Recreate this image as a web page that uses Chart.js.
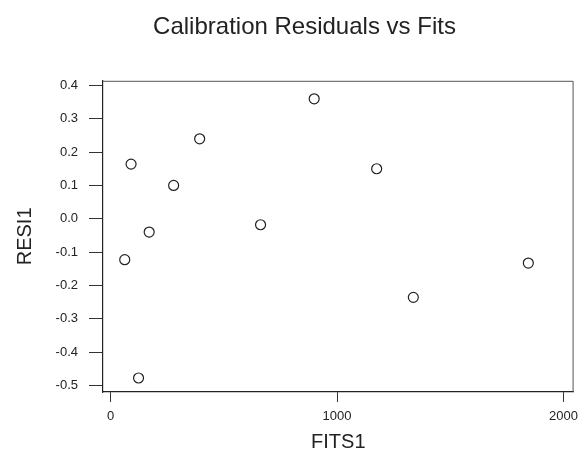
<!DOCTYPE html>
<html>
<head>
<meta charset="utf-8">
<title>Calibration Residuals vs Fits</title>
<script src="https://cdn.jsdelivr.net/npm/chart.js@4/dist/chart.umd.min.js"></script>
<style>
  body { margin: 0; background: #fff; }
  #wrap { width: 585px; height: 458px; }
</style>
</head>
<body>
<div id="wrap"><canvas id="residChart" width="585" height="458"></canvas></div>
<script>
// fitted values and their residuals
const fits = [90, 393, 899, 278, 170, 662, 62, 123, 1175, 1845, 1337];
const resids = [0.164, 0.240, 0.360, 0.100, -0.040, -0.018, -0.123, -0.478, 0.150, -0.133, -0.236];
const xTicks = [0, 1000, 2000];
const yTicks = [-0.5, -0.4, -0.3, -0.2, -0.1, 0.0, 0.1, 0.2, 0.3, 0.4];

const points = fits.map((f, i) => ({ x: f, y: resids[i] }));
const fontFamily = "'Liberation Sans', Arial, Helvetica, sans-serif";

// closes the frame on the top and right sides
const frameBox = {
    id: 'frameBox',
    afterDraw(chart) {
        const a = chart.chartArea;
        const ctx = chart.ctx;
        ctx.save();
        ctx.strokeStyle = '#555';
        ctx.lineWidth = 1;
        ctx.beginPath();
        ctx.moveTo(a.left, a.top + 0.5);
        ctx.lineTo(a.right - 0.5, a.top + 0.5);
        ctx.lineTo(a.right - 0.5, a.bottom);
        ctx.stroke();
        ctx.restore();
    }
};

const config = {
    type: 'scatter',
    data: {
        datasets: [{
            label: 'RESI1',
            data: points,
            pointStyle: 'circle',
            pointRadius: 5,
            pointBorderWidth: 1.2,
            borderColor: '#222',
            backgroundColor: 'rgba(255,255,255,0)',
        }],
    },
    options: {
        responsive: false,
        animation: false,
        layout: { padding: { left: 24, right: 0, top: 0, bottom: 0 } },
        plugins: {
            legend: { display: false },
            tooltip: { enabled: false },
            title: {
                display: true,
                text: 'Calibration Residuals vs Fits',
                color: '#222',
                font: { family: fontFamily, size: 24, weight: 'normal' },
                padding: { top: 13, bottom: 39 },
                align: 'center',
            },
        },
        scales: {
            x: {
                type: 'linear',
                min: -34,
                max: 2045,
                afterBuildTicks: (scale) => { scale.ticks = xTicks.map(v => ({ value: v })); },
                afterFit: (scale) => { scale.height = 66; },
                grid: { drawOnChartArea: false, drawTicks: true, tickLength: 10, color: '#333' },
                border: { display: true, color: '#222', width: 1.2 },
                ticks: {
                    color: '#222',
                    padding: 7,
                    maxRotation: 0,
                    font: { family: fontFamily, size: 13 },
                    callback: (v) => String(v),
                },
                title: {
                    display: true,
                    text: 'FITS1',
                    color: '#222',
                    font: { family: fontFamily, size: 20 },
                    padding: { top: 0, bottom: 4 },
                },
            },
            y: {
                type: 'linear',
                min: -0.52,
                max: 0.414,
                afterBuildTicks: (scale) => { scale.ticks = yTicks.map(v => ({ value: v })); },
                afterFit: (scale) => { scale.width = 79; },
                grid: { drawOnChartArea: false, drawTicks: true, tickLength: 14, color: '#333' },
                border: { display: true, color: '#222', width: 1.2 },
                ticks: {
                    color: '#222',
                    padding: 11,
                    font: { family: fontFamily, size: 13 },
                    callback: (v) => Number(v).toFixed(1),
                },
                title: {
                    display: true,
                    text: 'RESI1',
                    color: '#222',
                    font: { family: fontFamily, size: 20 },
                    padding: { top: -11, bottom: 0 },
                },
            },
        },
    },
    plugins: [frameBox],
};

var residChart = new Chart(document.getElementById('residChart'), config);
</script>
</body>
</html>
